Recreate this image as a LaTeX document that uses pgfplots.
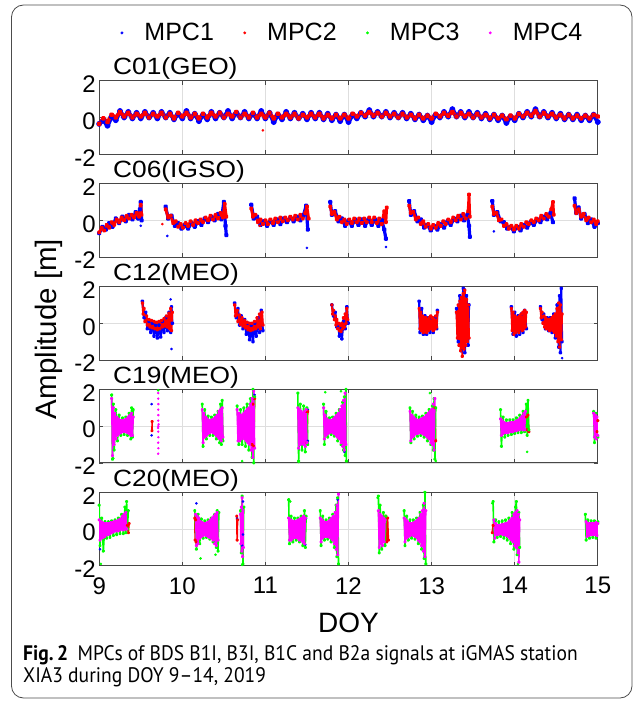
\documentclass[border=0pt]{standalone}
\usepackage{pgfplots}
\pgfplotsset{compat=1.18}
\usepackage{fontspec}
\setmainfont{Liberation Sans}
\newfontfamily\capfont{PT Sans}[FakeStretch=0.93]
\newfontfamily\ttlfont{Liberation Sans}[FakeStretch=1.12]
\definecolor{mblue}{RGB}{0,0,255}
\definecolor{mred}{RGB}{255,0,0}
\definecolor{mgreen}{RGB}{0,255,0}
\definecolor{mmag}{RGB}{255,0,255}
\pgfplotsset{
 mpc/.style={width=498.6pt,height=73.5pt,scale only axis,anchor=north west,
  xmin=9,xmax=15,ymin=-2,ymax=2,xtick={9,10,11,12,13,14,15},xticklabels={},
  ytick={-2,0,2},yticklabels={-2,0,2},grid=major,
  major grid style={black!13,line width=0.7pt},
  axis line style={black!72,line width=0.9pt},tick style={black!72,line width=0.7pt},
  tick align=inside,major tick length=4pt,unbounded coords=jump,
  filter discard warning=false,
  tick label style={font=\fontsize{24}{24}\selectfont},
  yticklabel style={yshift=-3.5pt},
  xticklabel style={yshift=-8pt},
  title style={at={(0,1)},anchor=base west,xshift=13.8pt,yshift=0pt,inner sep=0pt,
   font=\ttlfont\fontsize{23.5}{23.5}\selectfont}},
 z/.style={line width=1.6pt,mark=*,mark size=0.9pt,line join=round,forget plot},
 o/.style={only marks,mark=*,mark size=1.1pt,forget plot}
}
\begin{document}
\begin{tikzpicture}
% ---------- C01 ----------
\begin{axis}[mpc,at={(99.2pt,-80.7pt)},title={C01(GEO)},
 legend columns=4,
 legend image code/.code={\fill[#1] (0pt,0pt) circle (1.3pt);},
 legend style={draw=none,fill=none,at={(0.5057,1)},anchor=center,yshift=47.8pt,
  font=\fontsize{25}{25}\selectfont,nodes={inner sep=0pt},
  /tikz/every even column/.append style={column sep=29.3pt}}]
\addlegendimage{mblue}\addlegendentry{\hspace{21pt}MPC1}
\addlegendimage{mred}\addlegendentry{\hspace{21pt}MPC2}
\addlegendimage{mgreen}\addlegendentry{\hspace{21pt}MPC3}
\addlegendimage{mmag}\addlegendentry{\hspace{21pt}MPC4}
\addplot[z,mblue,line width=4.2pt] coordinates {(9.00,-0.35)(9.05,-0.15)(9.10,-0.45)(9.15,0.05)(9.20,-0.15)(9.25,0.35)(9.30,0.00)(9.35,0.30)(9.40,-0.05)(9.45,0.25)(9.50,-0.05)(9.55,0.30)(9.60,0.00)(9.65,0.25)(9.70,-0.05)(9.75,0.30)(9.80,0.00)(9.85,0.25)(9.90,-0.10)(9.95,0.20)(10.00,-0.05)(10.05,0.35)(10.10,-0.05)(10.15,0.20)(10.20,-0.20)(10.25,0.15)(10.30,-0.10)(10.35,0.30)(10.40,-0.05)(10.45,0.25)(10.50,0.00)(10.55,0.35)(10.60,-0.05)(10.65,0.25)(10.70,0.00)(10.75,0.30)(10.80,-0.05)(10.85,0.20)(10.90,-0.05)(10.95,0.35)(11.00,-0.05)(11.05,0.25)(11.10,-0.25)(11.15,0.15)(11.20,-0.10)(11.25,0.30)(11.30,-0.05)(11.35,0.25)(11.40,-0.05)(11.45,0.20)(11.50,-0.10)(11.55,0.25)(11.60,-0.05)(11.65,0.25)(11.70,-0.10)(11.75,0.20)(11.80,-0.15)(11.85,0.15)(11.90,-0.20)(11.95,0.15)(12.00,-0.25)(12.05,0.15)(12.10,-0.05)(12.15,0.25)(12.20,0.05)(12.25,0.40)(12.30,0.05)(12.35,0.30)(12.40,0.05)(12.45,0.30)(12.50,0.00)(12.55,0.25)(12.60,0.00)(12.65,0.25)(12.70,-0.05)(12.75,0.20)(12.80,-0.10)(12.85,0.15)(12.90,-0.15)(12.95,0.10)(13.00,-0.25)(13.05,0.15)(13.10,0.00)(13.15,0.30)(13.20,0.05)(13.25,0.45)(13.30,0.05)(13.35,0.30)(13.40,0.00)(13.45,0.30)(13.50,0.00)(13.55,0.25)(13.60,-0.05)(13.65,0.20)(13.70,-0.10)(13.75,0.15)(13.80,-0.15)(13.85,0.10)(13.90,-0.30)(13.95,0.05)(14.00,-0.15)(14.05,0.20)(14.10,0.00)(14.15,0.30)(14.20,0.05)(14.25,0.45)(14.30,0.05)(14.35,0.30)(14.40,0.00)(14.45,0.25)(14.50,-0.05)(14.55,0.20)(14.60,-0.10)(14.65,0.15)(14.70,-0.10)(14.75,0.15)(14.80,-0.15)(14.85,0.10)(14.90,-0.15)(14.95,0.15)(15.00,-0.25)};
\addplot[z,mred,line width=3.6pt] coordinates {(9.00,-0.35)(9.05,-0.05)(9.10,-0.25)(9.15,0.15)(9.20,0.00)(9.25,0.30)(9.30,0.05)(9.35,0.25)(9.40,0.00)(9.45,0.20)(9.50,0.05)(9.55,0.25)(9.60,0.00)(9.65,0.20)(9.70,0.05)(9.75,0.25)(9.80,0.00)(9.85,0.20)(9.90,-0.05)(9.95,0.25)(10.00,0.05)(10.05,0.25)(10.10,0.00)(10.15,0.20)(10.20,-0.05)(10.25,0.20)(10.30,0.00)(10.35,0.25)(10.40,0.05)(10.45,0.25)(10.50,0.00)(10.55,0.20)(10.60,0.05)(10.65,0.30)(10.70,0.00)(10.75,0.20)(10.80,0.00)(10.85,0.25)(10.90,0.00)(10.95,0.20)(11.00,0.00)(11.05,0.25)(11.10,-0.05)(11.15,0.20)(11.20,0.00)(11.25,0.20)(11.30,0.00)(11.35,0.20)(11.40,-0.05)(11.45,0.15)(11.50,0.00)(11.55,0.20)(11.60,0.00)(11.65,0.20)(11.70,-0.05)(11.75,0.15)(11.80,-0.05)(11.85,0.15)(11.90,-0.05)(11.95,0.15)(12.00,-0.05)(12.05,0.20)(12.10,0.05)(12.15,0.25)(12.20,0.10)(12.25,0.30)(12.30,0.10)(12.35,0.25)(12.40,0.05)(12.45,0.25)(12.50,0.05)(12.55,0.20)(12.60,0.00)(12.65,0.20)(12.70,0.00)(12.75,0.15)(12.80,-0.05)(12.85,0.15)(12.90,-0.05)(12.95,0.10)(13.00,-0.05)(13.05,0.20)(13.10,0.05)(13.15,0.25)(13.20,0.10)(13.25,0.30)(13.30,0.05)(13.35,0.25)(13.40,0.05)(13.45,0.20)(13.50,0.00)(13.55,0.20)(13.60,0.00)(13.65,0.15)(13.70,-0.05)(13.75,0.15)(13.80,-0.05)(13.85,0.10)(13.90,-0.10)(13.95,0.10)(14.00,-0.05)(14.05,0.20)(14.10,0.05)(14.15,0.25)(14.20,0.10)(14.25,0.35)(14.30,0.05)(14.35,0.25)(14.40,0.05)(14.45,0.20)(14.50,0.00)(14.55,0.15)(14.60,-0.05)(14.65,0.15)(14.70,-0.05)(14.75,0.10)(14.80,-0.05)(14.85,0.10)(14.90,-0.05)(14.95,0.15)(15.00,0.05)};
\addplot[o,mred] coordinates {(10.97,-0.7)};
\end{axis}
% ---------- C06 ----------
\begin{axis}[mpc,at={(99.2pt,-183.6pt)},title={C06(IGSO)}]
\addplot[z,mblue,line width=3.2pt] coordinates {(9.00,-0.7)(9.04,-0.35)(9.08,-0.5)(9.12,-0.15)(9.16,-0.35)(9.20,0.1)(9.24,-0.15)(9.28,0.2)(9.32,-0.05)(9.36,0.3)(9.40,0.05)(9.44,0.45)(9.47,0.1)(9.49,0.6)(9.50,1.0)(9.51,0.0)(9.53,nan)
(9.80,0.75)(9.83,0.1)(9.87,0.25)(9.91,-0.3)(9.95,-0.15)(9.99,-0.45)(10.03,-0.25)(10.07,-0.45)(10.11,-0.15)(10.15,-0.35)(10.19,-0.05)(10.23,-0.25)(10.27,0.1)(10.31,-0.1)(10.35,0.2)(10.39,0.0)(10.43,0.35)(10.47,0.05)(10.50,1.0)(10.52,-0.3)(10.53,-0.8)(10.54,nan)
(10.83,0.85)(10.86,0.1)(10.90,0.2)(10.94,-0.25)(10.98,-0.05)(11.02,-0.3)(11.06,-0.05)(11.10,-0.25)(11.14,0.05)(11.18,-0.2)(11.22,0.1)(11.26,-0.1)(11.30,0.15)(11.34,-0.05)(11.38,0.2)(11.42,0.0)(11.46,0.3)(11.49,0.8)(11.51,-0.5)(11.52,nan)
(11.78,1.0)(11.80,0.3)(11.84,0.5)(11.88,-0.05)(11.92,0.1)(11.96,-0.3)(12.00,0.0)(12.04,-0.3)(12.08,0.05)(12.12,-0.25)(12.16,0.05)(12.20,-0.3)(12.24,0.05)(12.28,-0.25)(12.32,0.05)(12.36,-0.3)(12.40,0.0)(12.43,-0.5)(12.45,-1.0)(12.46,nan)
(12.73,1.05)(12.75,0.3)(12.79,0.5)(12.83,-0.05)(12.87,0.05)(12.91,-0.4)(12.95,-0.25)(12.99,-0.55)(13.03,-0.3)(13.07,-0.5)(13.11,-0.2)(13.15,-0.4)(13.19,-0.05)(13.23,-0.25)(13.27,0.1)(13.31,-0.05)(13.35,0.25)(13.39,0.0)(13.43,0.3)(13.45,-0.3)(13.46,-0.9)(13.47,nan)
(13.73,1.05)(13.75,0.3)(13.79,0.45)(13.83,-0.05)(13.87,-0.1)(13.91,-0.45)(13.95,-0.35)(13.99,-0.6)(14.03,-0.35)(14.07,-0.55)(14.11,-0.25)(14.15,-0.4)(14.19,-0.1)(14.23,-0.25)(14.27,0.05)(14.31,-0.1)(14.35,0.2)(14.39,0.05)(14.43,0.4)(14.46,-0.1)(14.47,nan)
(14.72,1.2)(14.74,0.4)(14.77,0.7)(14.80,0.1)(14.84,0.35)(14.88,-0.15)(14.92,0.05)(14.96,-0.35)(15.00,-0.15)};
\addplot[o,mblue] coordinates {(9.50,-0.3)(9.82,-0.85)(11.50,-1.5)(12.45,-1.45)(13.46,-0.9)(13.75,-0.6)};
\addplot[z,mred,line width=2.8pt] coordinates {(9.00,-0.65)(9.03,-0.4)(9.06,-0.55)(9.09,-0.25)(9.12,-0.4)(9.15,-0.1)(9.18,-0.25)(9.21,0.05)(9.24,-0.1)(9.27,0.15)(9.30,0.0)(9.33,0.25)(9.36,0.1)(9.39,0.3)(9.42,0.15)(9.45,0.4)(9.48,0.2)(9.50,0.85)(9.51,0.3)(9.52,nan)
(9.80,0.6)(9.83,0.15)(9.86,0.25)(9.89,-0.15)(9.92,-0.05)(9.95,-0.35)(9.98,-0.2)(10.01,-0.4)(10.04,-0.15)(10.07,-0.3)(10.10,-0.05)(10.13,-0.25)(10.16,0.0)(10.19,-0.15)(10.22,0.05)(10.25,-0.1)(10.28,0.15)(10.31,0.0)(10.34,0.25)(10.37,0.05)(10.40,0.3)(10.43,0.1)(10.46,0.4)(10.49,0.15)(10.51,0.9)(10.53,0.2)(10.54,nan)
(10.83,0.65)(10.85,0.2)(10.88,0.3)(10.91,-0.1)(10.94,0.05)(10.97,-0.2)(11.00,0.0)(11.03,-0.2)(11.06,0.05)(11.09,-0.15)(11.12,0.1)(11.15,-0.1)(11.18,0.15)(11.21,-0.05)(11.24,0.15)(11.27,0.0)(11.30,0.2)(11.33,0.05)(11.36,0.25)(11.39,0.05)(11.42,0.3)(11.45,0.1)(11.48,0.4)(11.50,0.75)(11.52,0.1)(11.53,nan)
(11.78,0.75)(11.80,0.35)(11.83,0.45)(11.86,0.05)(11.89,0.2)(11.92,-0.1)(11.95,0.05)(11.98,-0.2)(12.01,0.05)(12.04,-0.15)(12.07,0.1)(12.10,-0.1)(12.13,0.1)(12.16,-0.15)(12.19,0.1)(12.22,-0.1)(12.25,0.15)(12.28,-0.1)(12.31,0.15)(12.34,-0.15)(12.37,0.1)(12.40,-0.2)(12.43,0.5)(12.45,-0.1)(12.46,0.7)(12.47,nan)
(12.73,0.8)(12.75,0.4)(12.78,0.45)(12.81,0.05)(12.84,0.15)(12.87,-0.2)(12.90,-0.05)(12.93,-0.35)(12.96,-0.2)(12.99,-0.45)(13.02,-0.25)(13.05,-0.4)(13.08,-0.15)(13.11,-0.3)(13.14,-0.05)(13.17,-0.2)(13.20,0.05)(13.23,-0.1)(13.26,0.15)(13.29,0.0)(13.32,0.25)(13.35,0.05)(13.38,0.35)(13.41,0.1)(13.44,0.5)(13.45,1.4)(13.46,0.2)(13.47,nan)
(13.73,0.75)(13.75,0.35)(13.78,0.4)(13.81,0.0)(13.84,0.05)(13.87,-0.3)(13.90,-0.2)(13.93,-0.45)(13.96,-0.3)(13.99,-0.5)(14.02,-0.3)(14.05,-0.45)(14.08,-0.2)(14.11,-0.35)(14.14,-0.1)(14.17,-0.2)(14.20,0.0)(14.23,-0.1)(14.26,0.1)(14.29,0.0)(14.32,0.25)(14.35,0.1)(14.38,0.35)(14.41,0.2)(14.44,0.6)(14.46,1.0)(14.47,0.3)(14.48,nan)
(14.72,0.8)(14.74,0.4)(14.77,0.6)(14.80,0.2)(14.83,0.35)(14.86,0.0)(14.89,0.15)(14.92,-0.1)(14.95,0.05)(14.98,-0.2)(15.00,-0.05)};
\addplot[o,mred] coordinates {(10.93,-0.3)(9.76,-0.2)};
\end{axis}
% ---------- C12 ----------
\begin{axis}[mpc,at={(99.2pt,-286.5pt)},title={C12(MEO)}]
\addplot[z,mblue,line width=2.2pt] coordinates {(9.52,1.2)(9.54,0.3)(9.56,0.6)(9.58,-0.3)(9.60,0.1)(9.62,-0.5)(9.64,0.0)(9.66,-0.7)(9.68,-0.1)(9.70,-0.8)(9.72,-0.1)(9.74,-0.75)(9.76,0.1)(9.78,-0.5)(9.80,0.3)(9.82,-0.4)(9.84,0.6)(9.86,-0.5)(9.87,0.9)(9.88,0.0)(9.885,nan)
(10.63,1.1)(10.65,0.3)(10.67,0.8)(10.69,-0.1)(10.71,0.4)(10.73,-0.3)(10.75,0.2)(10.77,-0.6)(10.79,0.0)(10.81,-0.9)(10.83,-0.1)(10.85,-1.0)(10.87,0.0)(10.89,-0.7)(10.91,0.3)(10.93,-0.5)(10.95,0.7)(10.97,-0.4)(10.975,nan)
(11.80,1.0)(11.82,0.4)(11.84,0.6)(11.86,-0.2)(11.88,-0.1)(11.89,-0.7)(11.91,-0.3)(11.92,-0.85)(11.94,0.1)(11.96,-0.3)(11.98,0.9)(11.995,0.0)(12.0,nan)
(12.85,1.2)(12.86,-0.5)(12.88,0.8)(12.90,-0.6)(12.92,0.4)(12.94,-0.6)(12.96,0.3)(12.98,-0.5)(13.00,0.3)(13.02,-0.5)(13.04,0.3)(13.06,-0.3)(13.07,0.7)(13.075,nan)
(13.30,0.8)(13.32,-1.0)(13.34,1.5)(13.36,-1.5)(13.38,1.9)(13.40,-1.6)(13.42,1.5)(13.44,-1.2)(13.45,1.0)(13.455,nan)
(13.96,0.9)(13.98,-0.6)(14.00,0.6)(14.02,-0.7)(14.04,0.4)(14.06,-0.6)(14.08,0.5)(14.10,-0.5)(14.12,0.7)(14.14,-0.3)(14.145,nan)
(14.31,0.9)(14.33,0.2)(14.35,0.5)(14.37,-0.3)(14.39,0.3)(14.41,-0.4)(14.43,0.3)(14.45,-0.5)(14.47,0.5)(14.49,-0.8)(14.51,1.0)(14.53,-1.3)(14.54,1.5)(14.55,-1.6)(14.56,1.9)(14.57,-1.0)};
\addplot[o,mblue] coordinates {(9.86,1.3)(9.87,-1.4)(14.57,-1.9)(13.40,1.85)};
\addplot[z,mred,line width=2pt] coordinates {(9.52,1.1)(9.53,0.5)(9.54,0.8)(9.55,0.1)(9.57,0.4)(9.58,-0.1)(9.60,0.2)(9.61,-0.2)(9.63,0.15)(9.64,-0.25)(9.66,0.1)(9.67,-0.3)(9.69,0.05)(9.70,-0.35)(9.72,0.1)(9.73,-0.3)(9.75,0.15)(9.76,-0.2)(9.78,0.25)(9.79,-0.15)(9.81,0.4)(9.82,-0.2)(9.84,0.55)(9.85,-0.3)(9.86,0.8)(9.87,-0.4)(9.88,0.6)(9.885,nan)
(10.63,1.0)(10.64,0.4)(10.66,0.7)(10.67,0.1)(10.69,0.45)(10.70,-0.05)(10.72,0.3)(10.73,-0.15)(10.75,0.15)(10.76,-0.25)(10.78,0.05)(10.79,-0.35)(10.81,0.0)(10.82,-0.4)(10.84,0.0)(10.85,-0.35)(10.87,0.1)(10.88,-0.3)(10.90,0.3)(10.91,-0.2)(10.93,0.5)(10.94,-0.3)(10.96,0.6)(10.97,-0.1)(10.975,nan)
(11.80,1.0)(11.81,0.5)(11.82,0.7)(11.83,0.2)(11.84,0.4)(11.85,-0.1)(11.86,0.2)(11.87,-0.3)(11.88,0.0)(11.89,-0.4)(11.90,-0.1)(11.91,-0.45)(11.92,0.0)(11.93,-0.3)(11.94,0.3)(11.95,-0.2)(11.96,0.5)(11.97,0.0)(11.98,0.8)(11.99,0.2)(11.995,nan)
(12.85,0.8)(12.86,-0.3)(12.87,0.6)(12.88,-0.4)(12.89,0.4)(12.90,-0.5)(12.91,0.3)(12.92,-0.4)(12.93,0.3)(12.94,-0.5)(12.95,0.2)(12.96,-0.4)(12.97,0.3)(12.98,-0.3)(12.99,0.4)(13.00,-0.3)(13.01,0.3)(13.02,-0.4)(13.03,0.2)(13.04,-0.3)(13.05,0.4)(13.06,-0.2)(13.07,0.6)(13.075,nan)
(13.30,0.6)(13.31,-0.8)(13.32,1.0)(13.33,-1.2)(13.34,1.2)(13.35,-1.5)(13.36,1.4)(13.37,-1.8)(13.38,1.6)(13.39,-1.4)(13.40,1.8)(13.41,-1.2)(13.42,1.3)(13.43,-1.0)(13.44,1.0)(13.45,-0.8)(13.455,nan)
(13.96,0.8)(13.97,-0.4)(13.98,0.6)(13.99,-0.6)(14.00,0.4)(14.01,-0.5)(14.02,0.3)(14.03,-0.4)(14.04,0.3)(14.05,-0.5)(14.06,0.4)(14.07,-0.3)(14.08,0.5)(14.09,-0.4)(14.10,0.6)(14.11,-0.3)(14.12,0.7)(14.13,-0.2)(14.14,0.6)(14.145,nan)
(14.31,0.8)(14.32,0.3)(14.33,0.6)(14.34,0.0)(14.35,0.4)(14.36,-0.2)(14.37,0.3)(14.38,-0.3)(14.39,0.2)(14.40,-0.3)(14.41,0.2)(14.42,-0.4)(14.43,0.2)(14.44,-0.3)(14.45,0.3)(14.46,-0.4)(14.47,0.4)(14.48,-0.5)(14.49,0.5)(14.50,-0.7)(14.51,0.8)(14.52,-1.0)(14.53,1.1)(14.54,-1.3)(14.55,1.0)(14.56,-0.9)(14.57,0.5)};
\end{axis}
% ---------- C19 ----------
\begin{axis}[mpc,at={(99.2pt,-389.4pt)},title={C19(MEO)}]
\addplot[o,mblue] coordinates {(9.63,1.2)(9.63,-0.5)(10.86,1.5)(10.87,1.7)(11.51,0.9)(11.51,-0.8)(14.17,-0.3)(11.95,-1.4)};
\addplot[z,mred] coordinates {(9.635,-0.25)(9.637,0.25)(9.64,nan)
(10.84,-1.0)(10.85,1.2)(10.86,-1.1)(10.87,1.5)(10.875,nan)
(11.49,0.8)(11.50,-0.9)(11.51,0.8)(11.515,nan)
(13.04,1.0)(13.05,-0.8)(13.055,nan)
(14.14,0.5)(14.15,-0.2)(14.16,0.6)(14.17,-0.3)(14.175,nan)
(14.99,-0.3)(15.00,0.3)};
\addplot[z,mgreen] coordinates {(9.15,1.7)(9.16,-1.8)(9.17,1.2)(9.18,-1.3)(9.20,0.9)(9.22,-0.8)(9.24,0.6)(9.26,-0.5)(9.28,0.45)(9.30,-0.45)(9.32,0.5)(9.34,-0.5)(9.36,0.7)(9.38,-0.7)(9.39,1.0)(9.40,-0.6)(9.41,0.9)(9.415,nan)
(10.24,1.2)(10.25,-1.1)(10.27,0.9)(10.29,-0.7)(10.31,0.55)(10.33,-0.5)(10.35,0.5)(10.37,-0.5)(10.39,0.6)(10.41,-0.7)(10.43,0.8)(10.45,-0.9)(10.46,1.2)(10.47,-1.0)(10.48,1.4)(10.49,-0.8)(10.495,nan)
(10.66,1.1)(10.68,-1.0)(10.70,0.9)(10.72,-1.0)(10.74,1.0)(10.76,-1.1)(10.78,1.2)(10.80,-1.3)(10.82,1.5)(10.84,-1.7)(10.85,2.0)(10.86,-2.0)(10.87,1.6)(10.875,nan)
(11.39,1.8)(11.40,-1.9)(11.42,1.2)(11.44,-1.3)(11.46,1.1)(11.48,-1.4)(11.50,1.0)(11.51,-1.0)(11.515,nan)
(11.70,1.2)(11.71,-1.0)(11.73,0.8)(11.75,-0.6)(11.77,0.45)(11.79,-0.45)(11.81,0.5)(11.83,-0.55)(11.85,0.7)(11.87,-0.8)(11.89,0.9)(11.91,-1.0)(11.93,1.3)(11.94,-1.3)(11.95,1.6)(11.96,-1.6)(11.97,2.0)(11.975,-1.9)(11.98,nan)
(12.74,1.0)(12.75,-0.9)(12.77,0.8)(12.79,-0.7)(12.81,0.6)(12.83,-0.55)(12.85,0.5)(12.87,-0.5)(12.89,0.55)(12.91,-0.6)(12.93,0.7)(12.95,-0.8)(12.97,0.9)(12.99,-1.0)(13.01,1.1)(13.02,-1.3)(13.03,1.5)(13.04,-1.8)(13.05,1.0)(13.055,nan)
(13.83,0.9)(13.84,-1.1)(13.86,0.5)(13.88,-0.6)(13.90,0.35)(13.92,-0.5)(13.94,0.35)(13.96,-0.45)(13.98,0.35)(14.00,-0.4)(14.02,0.45)(14.04,-0.35)(14.06,0.6)(14.08,-0.35)(14.10,0.8)(14.12,-0.3)(14.14,1.2)(14.15,-0.5)(14.16,1.4)(14.17,-0.2)(14.175,nan)
(14.95,0.8)(14.96,-0.9)(14.98,0.7)(15.00,-0.6)};
\addplot[o,mgreen] coordinates {(11.72,1.85)(11.91,1.9)(12.98,1.8)(13.05,-1.9)(14.15,-1.4)(10.72,-1.9)(11.40,-1.95)(9.38,-0.5)(9.17,-1.75)(9.71,1.95)};
\addplot[o,mmag,mark size=1pt] coordinates {(9.71,1.8)(9.71,1.5)(9.712,1.2)(9.71,0.9)(9.712,0.6)(9.71,0.3)(9.712,0.0)(9.71,-0.3)(9.712,-0.6)(9.71,-0.9)(9.712,-1.2)(9.71,-1.5)(9.715,0.1)(9.708,-0.1)};
\addplot[z,mmag] coordinates {(9.15,1.5)(9.16,-1.6)(9.17,1.0)(9.18,-1.0)(9.19,0.7)(9.20,-0.7)(9.21,0.5)(9.22,-0.5)(9.23,0.4)(9.24,-0.4)(9.25,0.3)(9.26,-0.35)(9.27,0.3)(9.28,-0.3)(9.29,0.3)(9.30,-0.3)(9.31,0.35)(9.32,-0.3)(9.33,0.4)(9.34,-0.35)(9.35,0.5)(9.36,-0.4)(9.37,0.6)(9.38,-0.5)(9.39,0.7)(9.40,-0.5)(9.41,0.5)(9.415,nan)
(10.24,0.9)(10.25,-0.9)(10.26,0.7)(10.27,-0.6)(10.28,0.5)(10.29,-0.5)(10.30,0.4)(10.31,-0.4)(10.32,0.3)(10.33,-0.35)(10.34,0.3)(10.35,-0.3)(10.36,0.35)(10.37,-0.35)(10.38,0.4)(10.39,-0.4)(10.40,0.5)(10.41,-0.5)(10.42,0.6)(10.43,-0.6)(10.44,0.8)(10.45,-0.7)(10.46,0.9)(10.47,-0.8)(10.48,1.0)(10.49,-0.6)(10.495,nan)
(10.66,0.9)(10.67,-0.8)(10.68,0.7)(10.69,-0.8)(10.70,0.6)(10.71,-0.7)(10.72,0.6)(10.73,-0.6)(10.74,0.7)(10.75,-0.7)(10.76,0.8)(10.77,-0.8)(10.78,0.9)(10.79,-0.9)(10.80,1.0)(10.81,-1.0)(10.82,1.2)(10.83,-1.3)(10.84,1.5)(10.85,-1.7)(10.86,1.9)(10.87,-1.2)(10.875,nan)
(11.39,1.0)(11.40,-1.2)(11.41,0.9)(11.42,-1.0)(11.43,0.8)(11.44,-0.9)(11.45,0.7)(11.46,-1.0)(11.47,0.8)(11.48,-1.1)(11.49,0.9)(11.50,-0.9)(11.505,nan)
(11.70,1.0)(11.71,-0.7)(11.72,0.6)(11.73,-0.5)(11.74,0.4)(11.75,-0.4)(11.76,0.3)(11.77,-0.35)(11.78,0.3)(11.79,-0.3)(11.80,0.3)(11.81,-0.35)(11.82,0.4)(11.83,-0.4)(11.84,0.5)(11.85,-0.5)(11.86,0.6)(11.87,-0.6)(11.88,0.7)(11.89,-0.7)(11.90,0.9)(11.91,-0.9)(11.92,1.1)(11.93,-1.1)(11.94,1.4)(11.95,-1.3)(11.96,1.8)(11.97,-1.0)(11.975,nan)
(12.74,0.8)(12.75,-0.8)(12.76,0.6)(12.77,-0.6)(12.78,0.5)(12.79,-0.5)(12.80,0.4)(12.81,-0.4)(12.82,0.35)(12.83,-0.4)(12.84,0.3)(12.85,-0.35)(12.86,0.35)(12.87,-0.35)(12.88,0.4)(12.89,-0.4)(12.90,0.45)(12.91,-0.45)(12.92,0.5)(12.93,-0.5)(12.94,0.6)(12.95,-0.6)(12.96,0.7)(12.97,-0.7)(12.98,0.8)(12.99,-0.9)(13.00,0.9)(13.01,-1.0)(13.02,1.2)(13.03,-1.3)(13.04,1.5)(13.045,nan)
(13.83,0.4)(13.84,-0.5)(13.85,0.3)(13.86,-0.4)(13.87,0.2)(13.88,-0.35)(13.89,0.15)(13.90,-0.35)(13.91,0.15)(13.92,-0.35)(13.93,0.15)(13.94,-0.3)(13.95,0.2)(13.96,-0.3)(13.97,0.2)(13.98,-0.3)(13.99,0.2)(14.00,-0.25)(14.01,0.25)(14.02,-0.25)(14.03,0.3)(14.04,-0.2)(14.05,0.35)(14.06,-0.2)(14.07,0.45)(14.08,-0.15)(14.09,0.55)(14.10,-0.2)(14.11,0.7)(14.12,-0.2)(14.13,0.8)(14.135,nan)
(14.95,0.7)(14.96,-0.6)(14.97,0.6)(14.98,-0.7)(14.99,0.5)(15.00,-0.5)};
\end{axis}
% ---------- C20 ----------
\begin{axis}[mpc,at={(99.2pt,-492.3pt)},title={C20(MEO)},
 xticklabels={9,10,11,12,13,14,15},xlabel={DOY},
 xlabel style={at={(axis description cs:0.5,0)},anchor=center,yshift=-57pt,font=\fontsize{28}{28}\selectfont}]
\addplot[o,mblue] coordinates {(10.17,1.4)(10.66,0.6)(10.72,-0.9)(10.73,1.5)(11.87,1.6)(11.86,1.3)(11.48,-0.85)(11.49,0.6)(10.73,-0.3)(9.01,-1.1)};
\addplot[z,mred] coordinates {(9.34,0.2)(9.35,-0.2)(9.36,0.3)(9.365,nan)
(10.15,0.6)(10.155,-0.6)(10.16,0.5)(10.165,-0.7)(10.17,nan)
(10.655,0.7)(10.66,-0.6)(10.665,0.5)(10.67,nan)
(12.45,0.7)(12.46,-0.7)(12.47,0.6)(12.48,-0.6)(12.485,nan)
(13.73,-0.2)(13.74,0.2)(13.745,nan)};
\addplot[z,mgreen] coordinates {(9.00,1.3)(9.01,-0.9)(9.03,0.6)(9.05,-1.2)(9.07,0.4)(9.09,-0.5)(9.11,0.4)(9.13,-0.45)(9.15,0.45)(9.17,-0.35)(9.19,0.5)(9.21,-0.3)(9.23,0.6)(9.25,-0.25)(9.27,0.8)(9.29,-0.25)(9.31,1.2)(9.32,-0.2)(9.33,1.5)(9.34,0.0)(9.35,1.0)(9.355,nan)
(10.15,1.0)(10.17,-1.1)(10.19,0.8)(10.21,-0.8)(10.23,0.55)(10.25,-0.5)(10.27,0.45)(10.29,-0.45)(10.31,0.5)(10.33,-0.55)(10.35,0.6)(10.37,-0.7)(10.39,0.8)(10.41,-1.0)(10.42,1.0)(10.43,-1.2)(10.44,0.9)(10.445,nan)
(10.70,1.0)(10.71,-1.3)(10.72,1.8)(10.73,-1.9)(10.74,1.2)(10.745,nan)
(11.28,1.6)(11.29,-0.8)(11.31,0.7)(11.33,-0.7)(11.35,0.6)(11.37,-0.6)(11.39,0.6)(11.41,-0.7)(11.43,0.7)(11.45,-0.9)(11.47,1.0)(11.48,-1.0)(11.49,0.7)(11.495,nan)
(11.66,1.0)(11.67,-0.9)(11.69,0.7)(11.71,-0.6)(11.73,0.5)(11.75,-0.55)(11.77,0.6)(11.79,-0.7)(11.81,0.8)(11.83,-1.0)(11.85,1.3)(11.86,-1.5)(11.87,1.7)(11.88,-1.9)(11.885,nan)
(12.36,1.8)(12.37,-1.3)(12.38,1.3)(12.40,-1.1)(12.42,0.9)(12.44,-0.9)(12.45,0.7)(12.455,nan)
(12.67,1.0)(12.68,-0.9)(12.70,0.7)(12.72,-0.6)(12.74,0.5)(12.76,-0.5)(12.78,0.5)(12.80,-0.55)(12.82,0.6)(12.84,-0.8)(12.86,0.9)(12.88,-1.1)(12.90,1.3)(12.91,-1.6)(12.92,2.0)(12.93,-1.9)(12.935,nan)
(13.74,1.5)(13.75,-0.7)(13.77,0.5)(13.79,-0.45)(13.81,0.4)(13.83,-0.4)(13.85,0.45)(13.87,-0.5)(13.89,0.5)(13.91,-0.6)(13.93,0.6)(13.95,-0.8)(13.97,0.9)(13.99,-1.1)(14.01,1.2)(14.02,1.5)(14.03,-1.4)(14.05,0.9)(14.06,-1.0)(14.065,nan)
(14.85,0.8)(14.86,-0.6)(14.88,0.5)(14.90,-0.5)(14.92,0.45)(14.94,-0.45)(14.96,0.45)(14.98,-0.5)(15.00,0.4)};
\addplot[o,mgreen] coordinates {(9.02,-1.9)(10.22,-1.6)(10.40,-1.4)(11.30,1.5)(12.35,1.7)(13.73,1.4)(14.04,-1.9)(10.72,-1.95)};
\addplot[z,mmag] coordinates {(9.00,0.5)(9.01,-0.6)(9.02,0.4)(9.03,-0.5)(9.04,0.35)(9.05,-0.45)(9.06,0.3)(9.07,-0.4)(9.08,0.3)(9.09,-0.3)(9.10,0.3)(9.11,-0.3)(9.12,0.3)(9.13,-0.25)(9.14,0.35)(9.15,-0.2)(9.16,0.35)(9.17,-0.15)(9.18,0.4)(9.19,-0.1)(9.20,0.4)(9.21,-0.1)(9.22,0.45)(9.23,-0.1)(9.24,0.5)(9.25,-0.05)(9.26,0.55)(9.27,0.0)(9.28,0.7)(9.29,-0.05)(9.30,0.8)(9.31,0.0)(9.32,0.9)(9.33,0.0)(9.335,nan)
(10.16,0.8)(10.17,-0.9)(10.18,0.7)(10.19,-0.8)(10.20,0.6)(10.21,-0.5)(10.22,0.4)(10.23,-0.4)(10.24,0.35)(10.25,-0.35)(10.26,0.3)(10.27,-0.3)(10.28,0.3)(10.29,-0.35)(10.30,0.35)(10.31,-0.4)(10.32,0.4)(10.33,-0.45)(10.34,0.5)(10.35,-0.5)(10.36,0.6)(10.37,-0.6)(10.38,0.7)(10.39,-0.8)(10.40,0.8)(10.41,-0.9)(10.42,0.9)(10.43,-0.6)(10.435,nan)
(10.70,0.8)(10.705,-0.8)(10.71,1.2)(10.715,-1.2)(10.72,1.7)(10.725,-1.5)(10.73,1.0)(10.735,-1.0)(10.74,nan)
(11.28,0.6)(11.29,-0.6)(11.30,0.5)(11.31,-0.6)(11.32,0.45)(11.33,-0.5)(11.34,0.4)(11.35,-0.45)(11.36,0.4)(11.37,-0.45)(11.38,0.45)(11.39,-0.5)(11.40,0.5)(11.41,-0.6)(11.42,0.55)(11.43,-0.6)(11.44,0.6)(11.45,-0.7)(11.46,0.7)(11.47,-0.8)(11.48,0.6)(11.485,nan)
(11.66,0.6)(11.67,-0.7)(11.68,0.5)(11.69,-0.5)(11.70,0.4)(11.71,-0.4)(11.72,0.35)(11.73,-0.4)(11.74,0.35)(11.75,-0.4)(11.76,0.4)(11.77,-0.45)(11.78,0.5)(11.79,-0.5)(11.80,0.6)(11.81,-0.6)(11.82,0.7)(11.83,-0.8)(11.84,0.9)(11.85,-1.1)(11.86,1.3)(11.87,-1.4)(11.88,1.9)(11.885,nan)
(12.36,1.0)(12.37,-1.0)(12.38,0.8)(12.39,-0.8)(12.40,0.7)(12.41,-0.9)(12.42,0.6)(12.43,-0.7)(12.44,0.5)(12.445,nan)
(12.67,0.6)(12.68,-0.7)(12.69,0.5)(12.70,-0.5)(12.71,0.4)(12.72,-0.4)(12.73,0.3)(12.74,-0.35)(12.75,0.3)(12.76,-0.3)(12.77,0.3)(12.78,-0.35)(12.79,0.35)(12.80,-0.4)(12.81,0.4)(12.82,-0.45)(12.83,0.5)(12.84,-0.6)(12.85,0.6)(12.86,-0.7)(12.87,0.8)(12.88,-0.9)(12.89,1.0)(12.90,-1.2)(12.91,1.4)(12.92,-1.5)(12.93,1.0)(12.935,nan)
(13.75,0.5)(13.76,-0.5)(13.77,0.3)(13.78,-0.3)(13.79,0.2)(13.80,-0.3)(13.81,0.2)(13.82,-0.25)(13.83,0.2)(13.84,-0.25)(13.85,0.25)(13.86,-0.3)(13.87,0.25)(13.88,-0.3)(13.89,0.3)(13.90,-0.35)(13.91,0.3)(13.92,-0.4)(13.93,0.4)(13.94,-0.5)(13.95,0.5)(13.96,-0.6)(13.97,0.6)(13.98,-0.7)(13.99,0.8)(14.00,-0.9)(14.01,0.9)(14.02,-1.0)(14.03,1.0)(14.04,-1.3)(14.045,0.8)(14.05,-1.8)(14.06,0.5)(14.065,nan)
(14.86,0.4)(14.87,-0.4)(14.88,0.3)(14.89,-0.35)(14.90,0.3)(14.91,-0.3)(14.92,0.3)(14.93,-0.3)(14.94,0.3)(14.95,-0.3)(14.96,0.3)(14.97,-0.3)(14.98,0.35)(14.99,-0.35)(15.00,0.3)};
\end{axis}
% ---------- labels, caption, frame ----------
\node[rotate=90,font=\fontsize{29.5}{29.5}\selectfont] at (49pt,-329pt) {Amplitude [m]};
\node[anchor=base west,inner sep=0pt,font=\capfont\fontsize{21}{22}\selectfont] at (23pt,-660pt) {\textbf{Fig.\,2}\hspace{0.45em}MPCs of BDS B1I, B3I, B1C and B2a signals at iGMAS station};
\node[anchor=base west,inner sep=0pt,font=\capfont\fontsize{21}{22}\selectfont] at (23pt,-682pt) {XIA3 during DOY 9–14, 2019};
\draw[black!70,line width=0.8pt,rounded corners=12pt] (11.5pt,-5pt) rectangle (632pt,-698pt);
\pgfresetboundingbox
\useasboundingbox (0pt,0pt) rectangle (635pt,-701pt);
\end{tikzpicture}
\end{document}
